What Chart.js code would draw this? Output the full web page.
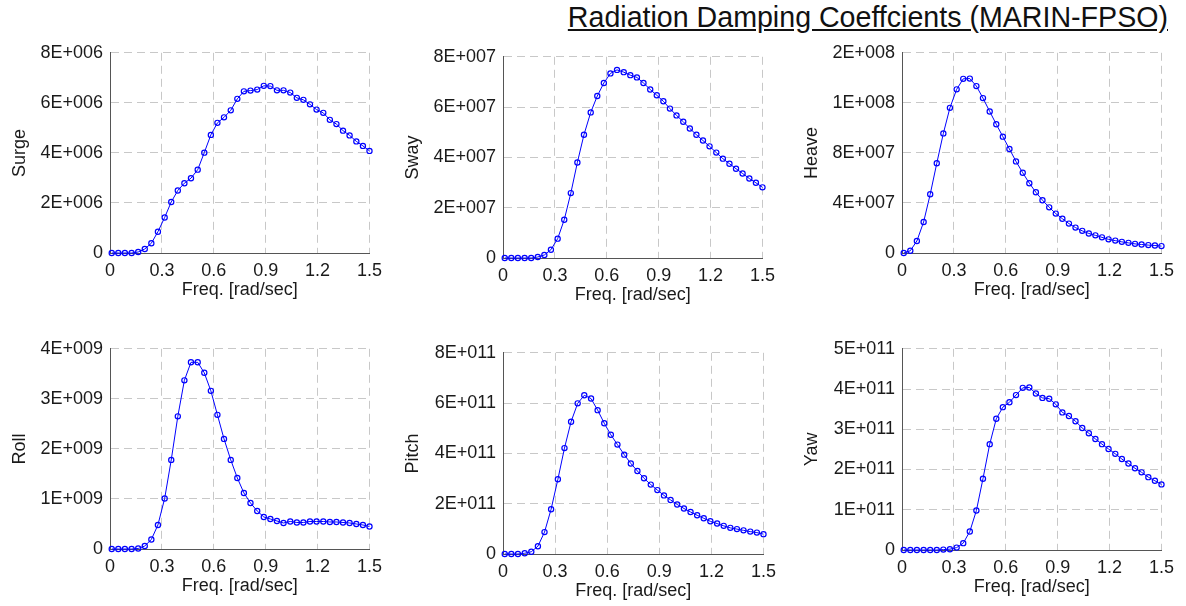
<!DOCTYPE html>
<html lang="en">
<head>
  <meta charset="UTF-8" />
  <title>Radiation Damping Coeffcients (MARIN-FPSO)</title>
  <script src="https://cdn.jsdelivr.net/npm/chart.js"></script>
  <style>
    body { margin: 0; background: #fff; width: 1186px; height: 606px; position: relative; overflow: hidden;
           font-family: 'Liberation Sans', Arial, sans-serif; }
    #title { position: absolute; right: 18px; top: 3px; font-size: 28.6px; line-height: 29px;
             text-decoration: underline; color: #111; white-space: nowrap; }
    canvas { position: absolute; }
  </style>
</head>
<body>
  <div id="title">Radiation Damping Coeffcients (MARIN-FPSO)</div>

  <script>
    // frequencies [rad/sec]
    const freq = [0.010, 0.048, 0.086, 0.125, 0.163, 0.201, 0.239, 0.277, 0.316, 0.354,
                  0.392, 0.430, 0.468, 0.507, 0.545, 0.583, 0.621, 0.659, 0.698, 0.736,
                  0.774, 0.812, 0.851, 0.889, 0.927, 0.965, 1.003, 1.042, 1.080, 1.118,
                  1.156, 1.194, 1.233, 1.271, 1.309, 1.347, 1.385, 1.424, 1.462, 1.500];

    const surge = [0, 0, 0, 0, 0.04e6, 0.16e6, 0.39e6, 0.85e6, 1.42e6, 2.04e6,
                   2.50e6, 2.79e6, 2.99e6, 3.33e6, 4.01e6, 4.72e6, 5.20e6, 5.42e6, 5.70e6, 6.16e6,
                   6.46e6, 6.49e6, 6.53e6, 6.68e6, 6.67e6, 6.50e6, 6.50e6, 6.41e6, 6.20e6, 6.12e6,
                   5.94e6, 5.73e6, 5.60e6, 5.32e6, 5.15e6, 4.89e6, 4.70e6, 4.46e6, 4.28e6, 4.08e6];

    const sway = [0, 0, 0, 0, 0, 0.04e7, 0.12e7, 0.33e7, 0.77e7, 1.52e7,
                  2.58e7, 3.80e7, 4.90e7, 5.79e7, 6.44e7, 6.96e7, 7.34e7, 7.48e7, 7.39e7, 7.27e7,
                  7.18e7, 6.96e7, 6.70e7, 6.47e7, 6.23e7, 5.94e7, 5.67e7, 5.42e7, 5.15e7, 4.90e7,
                  4.67e7, 4.44e7, 4.19e7, 3.95e7, 3.75e7, 3.55e7, 3.36e7, 3.16e7, 2.99e7, 2.81e7];

    const heave = [0, 0.18e7, 0.96e7, 2.48e7, 4.69e7, 7.17e7, 9.56e7, 11.60e7, 13.08e7, 13.92e7,
                   13.94e7, 13.34e7, 12.38e7, 11.31e7, 10.29e7, 9.30e7, 8.31e7, 7.32e7, 6.41e7, 5.58e7,
                   4.85e7, 4.22e7, 3.65e7, 3.15e7, 2.74e7, 2.35e7, 2.03e7, 1.77e7, 1.56e7, 1.41e7,
                   1.25e7, 1.09e7, 0.99e7, 0.89e7, 0.81e7, 0.73e7, 0.68e7, 0.63e7, 0.60e7, 0.55e7];

    const roll = [0, 0, 0, 0, 0.01e9, 0.06e9, 0.19e9, 0.48e9, 1.01e9, 1.78e9,
                  2.65e9, 3.37e9, 3.73e9, 3.73e9, 3.52e9, 3.16e9, 2.68e9, 2.20e9, 1.78e9, 1.42e9,
                  1.12e9, 0.92e9, 0.76e9, 0.64e9, 0.60e9, 0.56e9, 0.52e9, 0.55e9, 0.53e9, 0.53e9,
                  0.55e9, 0.55e9, 0.55e9, 0.54e9, 0.54e9, 0.53e9, 0.52e9, 0.50e9, 0.48e9, 0.45e9];

    const pitch = [0, 0, 0, 0.03e11, 0.09e11, 0.31e11, 0.87e11, 1.78e11, 2.97e11, 4.21e11,
                   5.26e11, 5.99e11, 6.31e11, 6.18e11, 5.72e11, 5.20e11, 4.74e11, 4.35e11, 3.95e11, 3.60e11,
                   3.30e11, 3.01e11, 2.76e11, 2.54e11, 2.33e11, 2.15e11, 1.97e11, 1.81e11, 1.67e11, 1.54e11,
                   1.42e11, 1.30e11, 1.21e11, 1.12e11, 1.04e11, 0.99e11, 0.94e11, 0.89e11, 0.85e11, 0.79e11];

    const yaw = [0, 0, 0, 0, 0, 0, 0.01e11, 0.02e11, 0.06e11, 0.17e11,
                 0.46e11, 0.98e11, 1.77e11, 2.63e11, 3.26e11, 3.55e11, 3.67e11, 3.85e11, 4.03e11, 4.04e11,
                 3.89e11, 3.78e11, 3.76e11, 3.62e11, 3.42e11, 3.33e11, 3.20e11, 3.03e11, 2.90e11, 2.76e11,
                 2.63e11, 2.51e11, 2.39e11, 2.26e11, 2.15e11, 2.03e11, 1.93e11, 1.81e11, 1.72e11, 1.63e11];

    const xLabel = 'Freq. [rad/sec]';

    // [left, top, right, bottom] of each plot area on the page
    const panels = [
      { name: 'Surge', values: surge, max: 8e6,   step: 2e6,   rect: [110, 49, 371, 253] },
      { name: 'Sway',  values: sway,  max: 8e7,   step: 2e7,   rect: [503, 53, 764, 258] },
      { name: 'Heave', values: heave, max: 1.6e8, step: 4e7,   rect: [902, 49, 1163, 253] },
      { name: 'Roll',  values: roll,  max: 4e9,   step: 1e9,   rect: [110, 345, 371, 549] },
      { name: 'Pitch', values: pitch, max: 8e11,  step: 2e11,  rect: [503, 349, 765, 554] },
      { name: 'Yaw',   values: yaw,   max: 5e11,  step: 1e11,  rect: [902, 345, 1163, 550] }
    ];

    const YW = 105, XH = 50, PT = 14, PR = 18;

    Chart.defaults.font.family = "'Liberation Sans', Arial, sans-serif";
    Chart.defaults.font.size = 18;
    Chart.defaults.color = '#1a1a1a';

    // 8E+006 style labels
    function sci(v) {
      if (v === 0) return '0';
      const parts = v.toExponential(0).split('e');
      const e = parseInt(parts[1], 10);
      return parts[0] + 'E' + (e < 0 ? '-' : '+') + String(Math.abs(e)).padStart(3, '0');
    }

    panels.forEach(p => {
      const [l, t, r, b] = p.rect;
      const cv = document.createElement('canvas');
      cv.width = (r - l) + YW + PR;
      cv.height = (b - t) + PT + XH;
      cv.style.left = (l - YW) + 'px';
      cv.style.top = (t - PT) + 'px';
      document.body.appendChild(cv);

      new Chart(cv, {
        type: 'line',
        data: {
          datasets: [{
            data: freq.map((f, i) => ({ x: f, y: p.values[i] })),
            borderColor: '#0000ff',
            borderWidth: 1,
            pointStyle: 'circle',
            pointRadius: 2.6,
            pointBorderWidth: 1.2,
            pointBorderColor: '#0000ff',
            pointBackgroundColor: 'rgba(0,0,0,0)',
            tension: 0,
            clip: false
          }]
        },
        options: {
          responsive: false,
          animation: false,
          layout: { padding: { top: PT, right: PR, left: 0, bottom: 0 } },
          plugins: { legend: { display: false }, tooltip: { enabled: false } },
          scales: {
            x: {
              type: 'linear',
              min: 0, max: 1.5,
              afterFit: s => { s.height = XH; },
              ticks: { stepSize: 0.3, padding: 7, maxRotation: 0 },
              grid: { color: '#c8c8c8', drawTicks: false },
              border: { color: '#555', width: 1, dash: [8, 5] },
              title: { display: true, text: xLabel, padding: { top: 0, bottom: 2 } }
            },
            y: {
              min: 0, max: p.max,
              afterFit: s => { s.width = YW; },
              ticks: { stepSize: p.step, padding: 7, callback: v => sci(v) },
              grid: { color: '#c8c8c8', drawTicks: false },
              border: { color: '#555', width: 1, dash: [8, 5] },
              title: { display: true, text: p.name, padding: { top: 4, bottom: 0 } }
            }
          }
        }
      });
    });
  </script>
</body>
</html>
